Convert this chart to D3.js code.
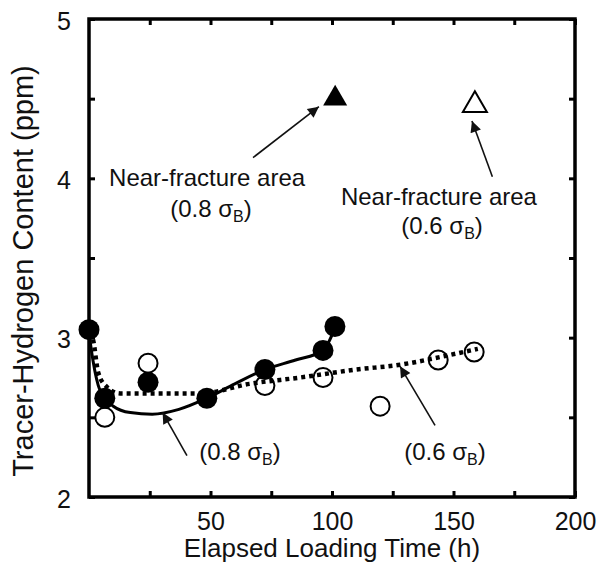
<!DOCTYPE html>
<html>
<head>
<meta charset="utf-8">
<script src="https://cdn.jsdelivr.net/npm/d3@7"></script>
<style>
  body { margin: 0; background: #fff; }
  svg { display: block; font-family: "Liberation Sans", Arial, sans-serif; }
  .axis path { display: none; }
  .axis line { stroke: #000; stroke-width: 3; }
  .axis text { font-size: 25px; fill: #111; }
</style>
</head>
<body>
<div id="chart"></div>
<script>
// measured points, 0.8 sigma_B (solid circles) and 0.6 sigma_B (open circles)
var solidTime = [0, 6.5, 24.3, 48.5, 72.4, 96.3, 101.2],
    solidH    = [3.05, 2.62, 2.72, 2.62, 2.80, 2.92, 3.07];
var openTime  = [6.5, 24.3, 72.4, 96.3, 119.8, 143.7, 158.5],
    openH     = [2.50, 2.84, 2.70, 2.75, 2.57, 2.86, 2.91];

// near-fracture area points (triangles)
var triTime   = [101.3, 158.8],
    triH      = [4.50, 4.46],
    triFilled = [true, false];

// fitted curves
var solidCurveT = [0, 1.6, 4.5, 10, 17, 26, 37, 48.5, 60, 72.4, 85, 96.3, 101.2],
    solidCurveH = [3.03, 2.86, 2.67, 2.57, 2.53, 2.52, 2.55, 2.62, 2.71, 2.80, 2.86, 2.92, 3.06];
var dotCurveT   = [0, 1.6, 3.8, 7.4, 12.8, 30, 45.7, 66, 87, 110, 128, 145, 160],
    dotCurveH   = [3.03, 2.99, 2.78, 2.69, 2.65, 2.65, 2.65, 2.71, 2.75, 2.80, 2.83, 2.88, 2.93];

// tick labels
var xTicks = [25, 50, 75, 100, 125, 150, 175, 200],
    xLabels = [50, 100, 150, 200];
var yTicks = [2, 2.5, 3, 3.5, 4, 4.5, 5],
    yLabels = [2, 3, 4, 5];

// annotations: label text, sigma value, label position, arrow from / to
var noteText  = ["Near-fracture area", "", "Near-fracture area", "", "", ""],
    noteSigma = ["", "0.8", "", "0.6", "0.8", "0.6"],
    noteX     = [48.6, 50.2, 144, 145.3, 62.1, 146.5],
    noteY     = [3.95, 3.755, 3.83, 3.65, 2.23, 2.23];
var arrowFrom = [[67.5, 4.13], [166, 4.01], [40.3, 2.26], [142.4, 2.45]],
    arrowTo   = [[94.6, 4.45], [157.6, 4.36], [30.3, 2.53], [128, 2.82]];

var W = 598, H = 566,
    m = [19, 23, 69, 89]; // top right bottom left

var x = d3.scaleLinear().domain([0, 200]).range([m[3], W - m[1]]);
var y = d3.scaleLinear().domain([2, 5]).range([H - m[2], m[0]]);

var svg = d3.select("#chart").append("svg")
    .attr("width", W)
    .attr("height", H);

svg.append("defs").append("marker")
    .attr("id", "head")
    .attr("viewBox", "0 0 10 10")
    .attr("refX", 10).attr("refY", 5)
    .attr("markerUnits", "userSpaceOnUse")
    .attr("markerWidth", 13).attr("markerHeight", 11)
    .attr("orient", "auto")
  .append("path")
    .attr("d", "M0,0L10,5L0,10z")
    .attr("fill", "#111");

// axes, ticks pointing inward
svg.append("g").attr("class", "axis")
    .attr("transform", "translate(0," + y(2) + ")")
    .call(d3.axisBottom(x).tickValues(xTicks).tickSize(-6).tickPadding(15)
      .tickFormat(function(d) { return xLabels.indexOf(d) >= 0 ? d : ""; }));
svg.append("g").attr("class", "axis")
    .attr("transform", "translate(0," + y(5) + ")")
    .call(d3.axisTop(x).tickValues(xTicks).tickSize(-6).tickFormat(""));
svg.append("g").attr("class", "axis")
    .attr("transform", "translate(" + x(0) + ",0)")
    .call(d3.axisLeft(y).tickValues(yTicks).tickSize(-6).tickPadding(18)
      .tickFormat(function(d) { return yLabels.indexOf(d) >= 0 ? d : ""; }))
  .selectAll("text").attr("dy", "0.4em");
svg.append("g").attr("class", "axis")
    .attr("transform", "translate(" + x(200) + ",0)")
    .call(d3.axisRight(y).tickValues(yTicks).tickSize(-6).tickFormat(""));

svg.append("rect")
    .attr("x", x(0)).attr("y", y(5))
    .attr("width", x(200) - x(0)).attr("height", y(2) - y(5))
    .attr("fill", "none").attr("stroke", "#000").attr("stroke-width", 3.5);

// axis titles
svg.append("text")
    .attr("x", 332).attr("y", 557)
    .attr("text-anchor", "middle")
    .style("font-size", "26px").attr("fill", "#111")
    .text("Elapsed Loading Time (h)");
svg.append("text")
    .attr("transform", "translate(33," + 271 + ") rotate(-90)")
    .attr("text-anchor", "middle")
    .style("font-size", "29px").attr("fill", "#111")
    .text("Tracer-Hydrogen Content (ppm)");

// curves
var line = d3.line()
    .x(function(d) { return x(d[0]); })
    .y(function(d) { return y(d[1]); })
    .curve(d3.curveMonotoneX);

svg.append("path")
    .datum(solidCurveT.map(function(t, i) { return [t, solidCurveH[i]]; }))
    .attr("d", line)
    .attr("fill", "none").attr("stroke", "#000").attr("stroke-width", 3);

svg.append("path")
    .datum(dotCurveT.map(function(t, i) { return [t, dotCurveH[i]]; }))
    .attr("d", line)
    .attr("fill", "none").attr("stroke", "#000").attr("stroke-width", 4.5)
    .attr("stroke-dasharray", "4,4");

// open circles first, solid circles on top
svg.selectAll("circle.open")
    .data(openTime.map(function(t, i) { return [t, openH[i]]; }))
  .enter().append("circle")
    .attr("class", "open")
    .attr("cx", function(d) { return x(d[0]); })
    .attr("cy", function(d) { return y(d[1]); })
    .attr("r", 9.5)
    .attr("fill", "none").attr("stroke", "#000").attr("stroke-width", 2);

svg.selectAll("circle.solid")
    .data(solidTime.map(function(t, i) { return [t, solidH[i]]; }))
  .enter().append("circle")
    .attr("class", "solid")
    .attr("cx", function(d) { return x(d[0]); })
    .attr("cy", function(d) { return y(d[1]); })
    .attr("r", 10.5)
    .attr("fill", "#000");

var tri = d3.symbol().type(d3.symbolTriangle).size(250);
svg.selectAll("path.tri")
    .data(triTime.map(function(t, i) { return [t, triH[i], triFilled[i]]; }))
  .enter().append("path")
    .attr("class", "tri")
    .attr("transform", function(d) { return "translate(" + x(d[0]) + "," + y(d[1]) + ")"; })
    .attr("d", tri)
    .attr("fill", function(d) { return d[2] ? "#000" : "#fff"; })
    .attr("stroke", "#000").attr("stroke-width", function(d) { return d[2] ? 0 : 2; });

// arrows
svg.selectAll("line.arrow")
    .data(arrowFrom.map(function(f, i) { return [f, arrowTo[i]]; }))
  .enter().append("line")
    .attr("class", "arrow")
    .attr("x1", function(d) { return x(d[0][0]); })
    .attr("y1", function(d) { return y(d[0][1]); })
    .attr("x2", function(d) { return x(d[1][0]); })
    .attr("y2", function(d) { return y(d[1][1]); })
    .attr("stroke", "#111").attr("stroke-width", 1.6)
    .attr("marker-end", "url(#head)");

// labels
var notes = svg.selectAll("text.note")
    .data(noteText.map(function(t, i) { return i; }))
  .enter().append("text")
    .attr("class", "note")
    .attr("x", function(i) { return x(noteX[i]); })
    .attr("y", function(i) { return y(noteY[i]); })
    .attr("text-anchor", "middle")
    .style("font-size", "24px").attr("fill", "#111");

notes.each(function(i) {
  var t = d3.select(this);
  if (noteText[i]) { t.text(noteText[i]); return; }
  t.append("tspan").text("(" + noteSigma[i] + " \u03c3");
  t.append("tspan").attr("dy", 5).style("font-size", "16px").text("B");
  t.append("tspan").attr("dy", -5).text(")");
});
</script>
</body>
</html>
